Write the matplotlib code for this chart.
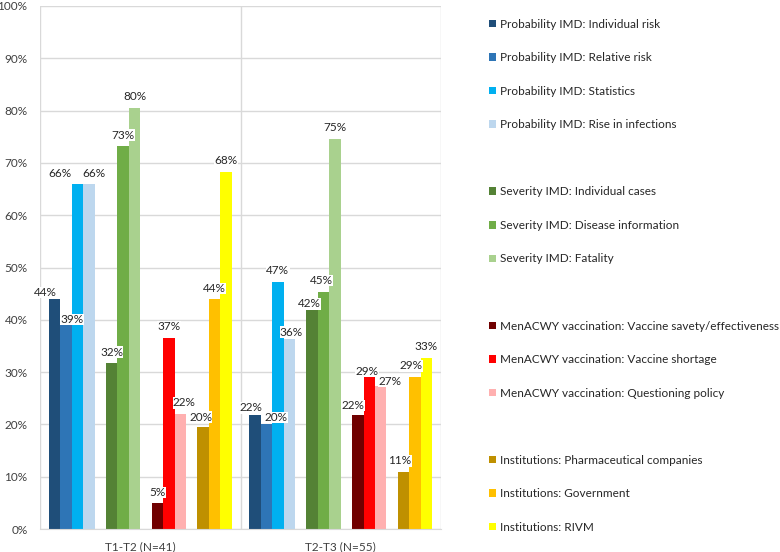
import numpy as np
import matplotlib.pyplot as plt
from matplotlib.patches import Patch

plt.rcParams['font.family'] = ['Lato', 'DejaVu Sans']

categories = ["T1-T2 (N=41)", "T2-T3 (N=55)"]
series = [
    "Probability IMD: Individual risk",
    "Probability IMD: Relative risk",
    "Probability IMD: Statistics",
    "Probability IMD: Rise in infections",
    "Severity IMD: Individual cases",
    "Severity IMD: Disease information",
    "Severity IMD: Fatality",
    "MenACWY vaccination: Vaccine savety/effectiveness",
    "MenACWY vaccination: Vaccine shortage",
    "MenACWY vaccination: Questioning policy",
    "Institutions: Pharmaceutical companies",
    "Institutions: Government",
    "Institutions: RIVM",
]
t1_t2 = [43.9, 39.0, 65.9, 65.9, 31.7, 73.2, 80.5, 4.9, 36.6, 22.0, 19.5, 43.9, 68.3]
t2_t3 = [21.8, 20.0, 47.3, 36.4, 41.8, 45.4, 74.6, 21.8, 29.1, 27.3, 10.9, 29.1, 32.7]
colors = ["#1F4E79", "#2E75B6", "#00B0F0", "#BDD7EE",
          "#548235", "#70AD47", "#A9D18E",
          "#700000", "#FF0000", "#FFB0B0",
          "#BF9000", "#FFC000", "#FFFF00"]
# slot of each series inside a category (blank slots separate the themes)
slots = [0, 1, 2, 3, 5, 6, 7, 9, 10, 11, 13, 14, 15]
# hand-placed data labels in the original: (category, series) -> nudge in px
label_nudge = {
    (0, 0): (-9.5, -4), (0, 1): (6, -5.5), (0, 2): (-17.5, 0), (0, 3): (5.5, 0),
    (0, 9): (4, 0), (0, 10): (-2.5, -1),
    (1, 0): (-4.5, -4), (1, 1): (10, -4), (1, 3): (2, -4.5), (1, 4): (-3, -4.5),
    (1, 5): (-2, 0), (1, 7): (-4.5, -1.5), (1, 8): (-2.5, -5.5), (1, 9): (9, -6),
    (1, 10): (-3.5, 0), (1, 11): (-4, 0),
}
FS = 8.5

fig = plt.figure(figsize=(7.8, 5.52), dpi=100)
ax = fig.add_axes([40 / 780, 23 / 552, 401 / 780, 523 / 552])

w = 1 / 17.54
xc = np.arange(len(categories))
values = np.array([t1_t2, t2_t3])

handles = []
for i, name in enumerate(series):
    x = xc - 8 * w + (slots[i] + 0.5) * w
    bars = ax.bar(x, values[:, i], width=w, color=colors[i], label=name, zorder=2)
    handles.append(bars)
    for j, b in enumerate(bars):
        dx, dy = label_nudge.get((j, i), (0, 0))
        ax.annotate(f"{values[j, i]:.0f}%",
                    (b.get_x() + b.get_width() / 2, b.get_height()),
                    xytext=(dx * 0.72, (5.5 + dy) * 0.72), textcoords="offset points",
                    ha="center", va="bottom", fontsize=FS, color="#262626", zorder=3,
                    bbox=dict(boxstyle="square,pad=0.02", fc="white", ec="none"))

ax.set_xlim(-0.5, 1.5)
ax.set_ylim(0, 100)
ax.set_yticks(np.arange(0, 101, 10))
ax.set_yticklabels([f"{v}%" for v in range(0, 101, 10)])
ax.set_xticks(xc)
ax.set_xticklabels(categories)
ax.set_xticks([-0.5, 0.5, 1.5], minor=True)
ax.grid(axis="y", color="#D9D9D9", lw=1, zorder=0)
ax.grid(axis="x", which="minor", color="#D9D9D9", lw=1, zorder=0)
ax.tick_params(which="both", length=0, labelsize=FS, colors="#404040")
ax.tick_params(axis="y", pad=9)
ax.tick_params(axis="x", pad=9)
for s in ax.spines.values():
    s.set_visible(False)
ax.spines["bottom"].set_visible(True)
ax.spines["bottom"].set_color("#D9D9D9")

# legend with blank entries between the themes
blank = Patch(alpha=0)
leg_handles, leg_labels = [], []
for i, name in enumerate(series):
    if i in (4, 7, 10):
        leg_handles.append(blank)
        leg_labels.append(" ")
    leg_handles.append(handles[i])
    leg_labels.append(name)
fig.legend(leg_handles, leg_labels, loc="upper left",
           bbox_to_anchor=(478 / 780, 1 - 8 / 552), frameon=False,
           fontsize=FS, handlelength=0.6, handleheight=0.6, handletextpad=0.35,
           labelspacing=1.91, labelcolor="#262626")

plt.savefig("out.png", dpi=100)
